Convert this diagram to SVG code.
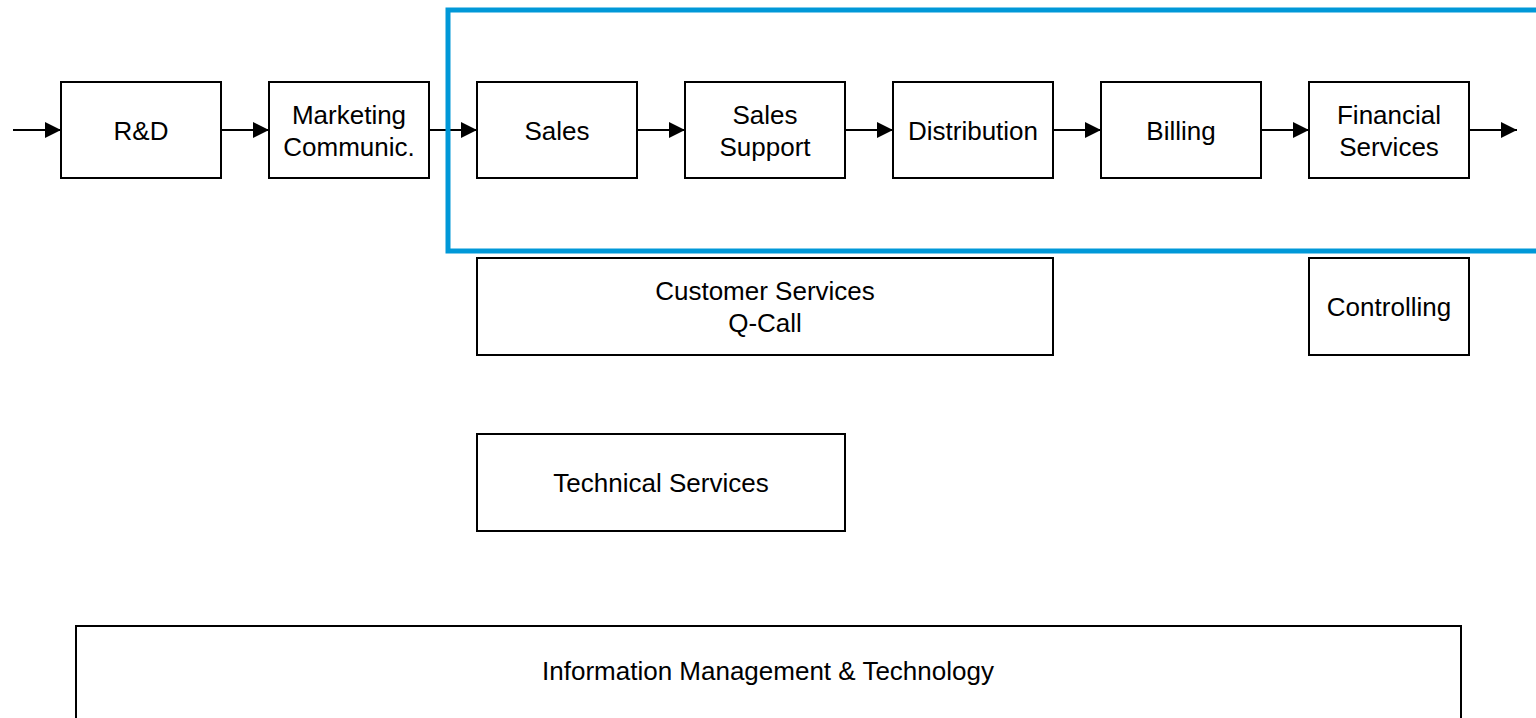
<svg xmlns="http://www.w3.org/2000/svg" width="1536" height="718" viewBox="0 0 1536 718">
<style>
.box{fill:#fff;stroke:#000;stroke-width:2}
.lbl{font-family:"Liberation Sans",Arial,sans-serif;font-size:26px;fill:#000;text-anchor:middle}
.con{stroke:#000;stroke-width:2;fill:none;marker-end:url(#arr)}
.frame{fill:none;stroke:#0098D8;stroke-width:5}
</style>
<defs>
<marker id="arr" markerUnits="userSpaceOnUse" markerWidth="17" markerHeight="16" refX="16" refY="8" orient="auto">
<path d="M0,0 L16,8 L0,16 z" fill="#000"/>
</marker>
</defs>
<rect width="1536" height="718" fill="#fff"/>
<g id="connectors">
<line class="con" x1="13" y1="130" x2="61" y2="130"/>
<line class="con" x1="221" y1="130" x2="269" y2="130"/>
<line class="con" x1="429" y1="130" x2="477" y2="130"/>
<line class="con" x1="637" y1="130" x2="685" y2="130"/>
<line class="con" x1="845" y1="130" x2="893" y2="130"/>
<line class="con" x1="1053" y1="130" x2="1101" y2="130"/>
<line class="con" x1="1261" y1="130" x2="1309" y2="130"/>
<line class="con" x1="1469" y1="130" x2="1517" y2="130"/>
</g>
<g id="scope-frame">
<rect class="frame" x="448" y="10" width="1100" height="241"/>
</g>
<g id="rnd">
<rect class="box" x="61" y="82" width="160" height="96"/>
<text class="lbl" x="141" y="139.5">R&amp;D</text>
</g>
<g id="marketing">
<rect class="box" x="269" y="82" width="160" height="96"/>
<text class="lbl" x="349" y="123.5">Marketing</text>
<text class="lbl" x="349" y="155.5">Communic.</text>
</g>
<g id="sales">
<rect class="box" x="477" y="82" width="160" height="96"/>
<text class="lbl" x="557" y="139.5">Sales</text>
</g>
<g id="sales-support">
<rect class="box" x="685" y="82" width="160" height="96"/>
<text class="lbl" x="765" y="123.5">Sales</text>
<text class="lbl" x="765" y="155.5">Support</text>
</g>
<g id="distribution">
<rect class="box" x="893" y="82" width="160" height="96"/>
<text class="lbl" x="973" y="139.5">Distribution</text>
</g>
<g id="billing">
<rect class="box" x="1101" y="82" width="160" height="96"/>
<text class="lbl" x="1181" y="139.5">Billing</text>
</g>
<g id="financial-services">
<rect class="box" x="1309" y="82" width="160" height="96"/>
<text class="lbl" x="1389" y="123.5">Financial</text>
<text class="lbl" x="1389" y="155.5">Services</text>
</g>
<g id="customer-services">
<rect class="box" x="477" y="258" width="576" height="97"/>
<text class="lbl" x="765" y="300">Customer Services</text>
<text class="lbl" x="765" y="332">Q-Call</text>
</g>
<g id="controlling">
<rect class="box" x="1309" y="258" width="160" height="97"/>
<text class="lbl" x="1389" y="316">Controlling</text>
</g>
<g id="technical-services">
<rect class="box" x="477" y="434" width="368" height="97"/>
<text class="lbl" x="661" y="492">Technical Services</text>
</g>
<g id="information-management">
<rect class="box" x="76" y="626" width="1385" height="100"/>
<text class="lbl" x="768" y="680">Information Management &amp; Technology</text>
</g>
</svg>
